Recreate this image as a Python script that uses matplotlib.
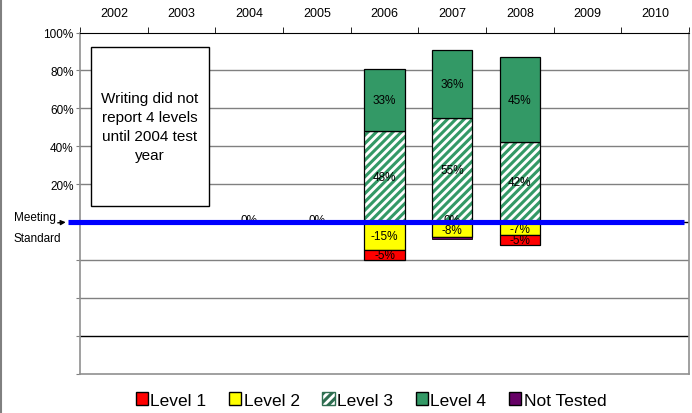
import numpy as np
import matplotlib.pyplot as plt
from matplotlib.patches import Patch, Rectangle
from matplotlib.lines import Line2D

plt.rcParams['font.family'] = ['Liberation Sans', 'DejaVu Sans']
plt.rcParams['hatch.linewidth'] = 2.2

years = ['2002', '2003', '2004', '2005', '2006', '2007', '2008', '2009', '2010']
level1 = [np.nan, np.nan, 0, 0, -5, 0, -5, np.nan, np.nan]
level2 = [np.nan, np.nan, np.nan, np.nan, -15, -8, -7, np.nan, np.nan]
level3 = [np.nan, np.nan, np.nan, np.nan, 48, 55, 42, np.nan, np.nan]
level4 = [np.nan, np.nan, np.nan, np.nan, 33, 36, 45, np.nan, np.nan]
not_tested = [np.nan, np.nan, np.nan, np.nan, np.nan, -0.8, np.nan, np.nan, np.nan]
ytick_vals = [-80, -60, -40, -20, 0, 20, 40, 60, 80, 100]
ytick_labels = ['', '', '', '', '', '20%', '40%', '60%', '80%', '100%']
note = 'Writing did not\nreport 4 levels\nuntil 2004 test\nyear'

c_l1 = '#FF0000'
c_l2 = '#FFFF00'
c_green = '#339966'
c_nt = '#660066'

fig = plt.figure(figsize=(6.92, 4.14), dpi=100)
ax = fig.add_axes([80/692, 39.4/414, 609/692, 341/414])

x = np.arange(len(years))
w = 0.6
l1 = np.nan_to_num(level1)
l2 = np.nan_to_num(level2)
l3 = np.nan_to_num(level3)
l4 = np.nan_to_num(level4)
nt = np.nan_to_num(not_tested)

# negative side: level 2 next to zero, then level 1, then not tested
ax.bar(x, l2, w, color=c_l2, edgecolor='black', lw=0.9, zorder=3)
ax.bar(x, l1, w, bottom=l2, color=c_l1, edgecolor='black', lw=0.9, zorder=3)
ax.bar(x, nt, w, bottom=l2 + l1, color=c_nt, edgecolor='black', lw=0.6, zorder=3)
# positive side
ax.bar(x, l3, w, color='white', edgecolor=c_green, hatch='////', lw=0, zorder=3)
ax.bar(x, l3, w, fill=False, edgecolor='black', lw=0.9, zorder=3)
ax.bar(x, l4, w, bottom=l3, color=c_green, edgecolor='black', lw=0.9, zorder=3)

# labels
for i in range(len(years)):
    if not np.isnan(level3[i]):
        ax.text(x[i], level3[i] / 2, '%d%%' % level3[i], ha='center', va='center', fontsize=8.5, zorder=5)
    if not np.isnan(level4[i]):
        ax.text(x[i], level3[i] + level4[i] / 2, '%d%%' % level4[i], ha='center', va='center', fontsize=8.5, zorder=5)
    if not np.isnan(level2[i]):
        ax.text(x[i], level2[i] / 2, '%d%%' % level2[i], ha='center', va='center', fontsize=8.5, zorder=5)
    if not np.isnan(level1[i]):
        if level1[i] == 0:
            ax.text(x[i], 1.2, '0%', ha='center', va='center', fontsize=8.5, zorder=4)
        else:
            b = level2[i] if not np.isnan(level2[i]) else 0
            ax.text(x[i], b + level1[i] / 2, '%d%%' % level1[i], ha='center', va='center', fontsize=8.5, zorder=5)

ax.set_xlim(-0.5, len(years) - 0.5)
ax.set_ylim(-80, 100)

# grid
for v in ytick_vals[1:-1]:
    if v == 0:
        continue
    ax.axhline(v, color='black' if v == -60 else '#808080', lw=1, zorder=1)
ax.axhline(0, color='black', lw=1, zorder=2)
ax.plot([-0.67, 8.42], [0, 0], color='#0000FF', lw=3.7, solid_capstyle='butt', zorder=6, clip_on=False)

# axes styling
ax.xaxis.tick_top()
ax.set_xticks(x)
ax.set_xticklabels(years, fontsize=9)
ax.set_xticks(np.arange(-0.5, len(years)), minor=True)
ax.tick_params(axis='x', which='major', length=0, pad=10)
ax.tick_params(axis='x', which='minor', length=4, direction='out', color='black')
ax.set_yticks(ytick_vals)
ax.set_yticklabels(ytick_labels, fontsize=8.5)
ax.tick_params(axis='y', length=3, direction='out', color='#808080', pad=1.5)
for s in ['left', 'right', 'bottom']:
    ax.spines[s].set_color('#909090')
    ax.spines[s].set_linewidth(1.2)
ax.spines['top'].set_color('black')

# note box
ax.add_patch(Rectangle((-0.34, 8.4), 1.745, 84, facecolor='white', edgecolor='black', lw=1, zorder=7))
ax.text(-0.34 + 1.745 / 2, 50.5, note, ha='center', va='center', fontsize=11, linespacing=1.45, zorder=8)

# meeting standard label
fig.text(14/692, 1 - 218/414, 'Meeting', ha='left', va='center', fontsize=8.5)
fig.text(14/692, 1 - 239/414, 'Standard', ha='left', va='center', fontsize=8.5)
ax.annotate('', xy=(-0.67, 0), xycoords='data', xytext=(55/692, 1 - 224/414), textcoords='figure fraction',
            arrowprops=dict(arrowstyle='-|>', color='black', lw=1, mutation_scale=7), annotation_clip=False)

# legend
handles = [Patch(facecolor=c_l1, edgecolor='black'),
           Patch(facecolor=c_l2, edgecolor='black'),
           Patch(facecolor='white', edgecolor='#2e6e50', hatch='////'),
           Patch(facecolor=c_green, edgecolor='black'),
           Patch(facecolor=c_nt, edgecolor='black')]
fig.legend(handles, ['Level 1', 'Level 2', 'Level 3', 'Level 4', 'Not Tested'],
           loc='center', bbox_to_anchor=(371/692, 1 - 401/414), ncol=5, frameon=False,
           fontsize=12.5, handlelength=0.7, handleheight=0.7, handletextpad=0.15, columnspacing=1.3)

fig.add_artist(Line2D([0.002, 0.002], [0, 1], color='#808080', lw=1.5))

fig.savefig('out.png', dpi=100)
